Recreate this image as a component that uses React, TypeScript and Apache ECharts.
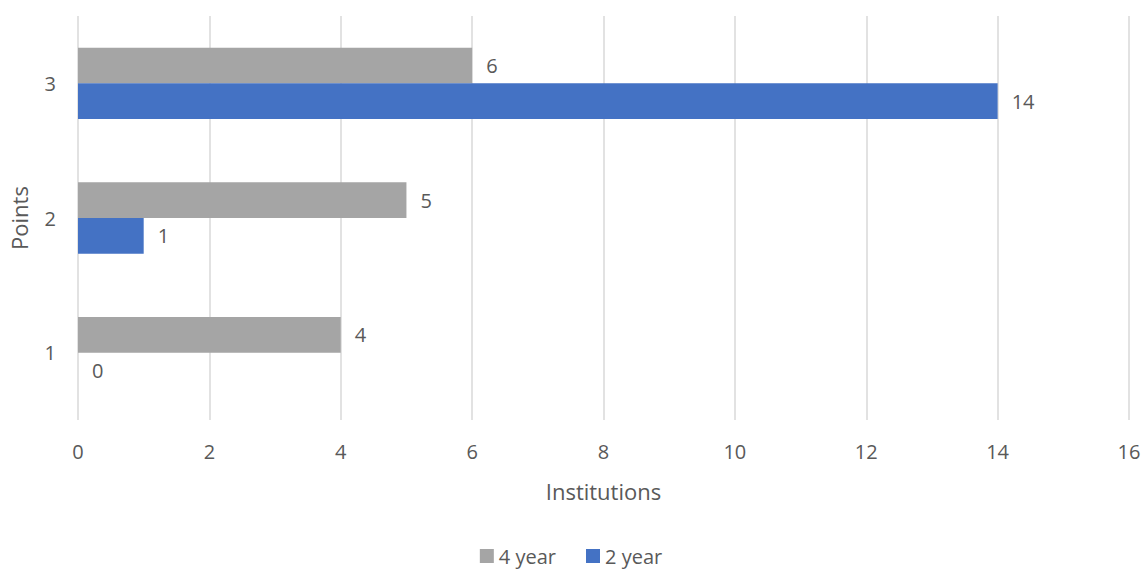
import React, { useEffect, useRef } from "react";
import * as echarts from "echarts";

const categories = ["1", "2", "3"];
const fourYear = [4, 5, 6];
const twoYear = [0, 1, 14];
const xTicks = { min: 0, max: 16, interval: 2 };

const FONT = "'Open Sans', 'Noto Sans', sans-serif";
const TEXT = "#595959";

export default function App() {
  const ref = useRef<HTMLDivElement>(null);

  useEffect(() => {
    document.body.style.margin = "0";
    const chart = echarts.init(ref.current!, null, { renderer: "svg" });
    const label = {
      show: true,
      position: "right" as const,
      distance: 14,
      color: TEXT,
      fontSize: 20,
      fontFamily: FONT,
    };
    chart.setOption({
      animation: false,
      textStyle: { fontFamily: FONT },
      grid: {
        left: 78,
        right: 13,
        top: 16,
        bottom: 151,
        containLabel: false,
        outerBoundsMode: "none",
      },
      legend: {
        data: ["4 year", "2 year"],
        bottom: 0,
        left: "center",
        itemWidth: 14,
        itemHeight: 14,
        itemGap: 30,
        icon: "rect",
        textStyle: { color: TEXT, fontSize: 20, fontFamily: FONT },
      },
      xAxis: {
        type: "value",
        min: xTicks.min,
        max: xTicks.max,
        interval: xTicks.interval,
        name: "Institutions",
        nameLocation: "middle",
        nameGap: 60,
        nameTextStyle: { color: TEXT, fontSize: 22, fontFamily: FONT },
        axisLine: { show: false },
        axisTick: { show: false },
        axisLabel: { color: TEXT, fontSize: 20, fontFamily: FONT, margin: 21 },
        splitLine: { show: true, lineStyle: { color: "#d9d9d9", width: 1.5 } },
      },
      yAxis: {
        type: "category",
        data: categories,
        name: "Points",
        nameLocation: "middle",
        nameGap: 48,
        nameRotate: 90,
        nameTextStyle: { color: TEXT, fontSize: 22, fontFamily: FONT },
        axisLine: { show: false },
        axisTick: { show: false },
        axisLabel: { color: TEXT, fontSize: 20, fontFamily: FONT, margin: 22 },
      },
      series: [
        {
          name: "4 year",
          type: "bar",
          data: fourYear,
          barCategoryGap: "47%",
          barGap: "0%",
          itemStyle: { color: "#a5a5a5" },
          label,
        },
        {
          name: "2 year",
          type: "bar",
          data: twoYear,
          barCategoryGap: "47%",
          barGap: "0%",
          itemStyle: { color: "#4472c4" },
          label,
        },
      ],
    });
    return () => chart.dispose();
  }, []);

  return <div ref={ref} style={{ width: 1142, height: 571 }} />;
}
